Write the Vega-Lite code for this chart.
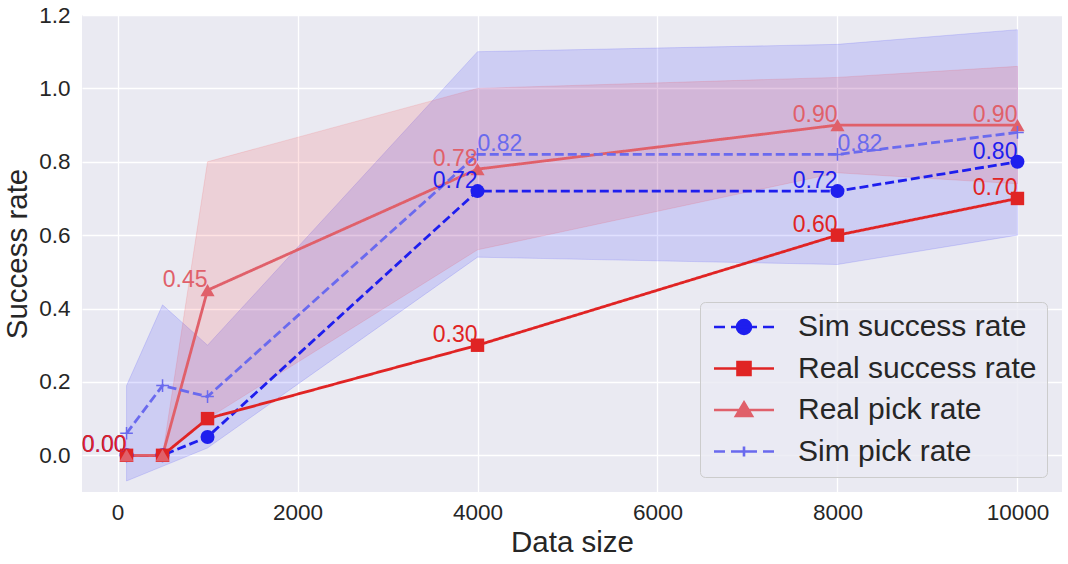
{
  "$schema": "https://vega.github.io/schema/vega-lite/v6.json",
  "width": 980,
  "height": 477,
  "autosize": {"type": "none"},
  "padding": {"left": 82, "top": 15, "right": 6, "bottom": 72},
  "background": "#ffffff",
  "datasets": {
    "rates": [
      {"series": "Sim success rate", "size": 100, "rate": 0.0, "labeled": true},
      {"series": "Sim success rate", "size": 500, "rate": 0.0, "labeled": false},
      {"series": "Sim success rate", "size": 1000, "rate": 0.05, "labeled": false},
      {"series": "Sim success rate", "size": 4000, "rate": 0.72, "labeled": true},
      {"series": "Sim success rate", "size": 8000, "rate": 0.72, "labeled": true},
      {"series": "Sim success rate", "size": 10000, "rate": 0.8, "labeled": true},
      {"series": "Real success rate", "size": 100, "rate": 0.0, "labeled": true},
      {"series": "Real success rate", "size": 500, "rate": 0.0, "labeled": false},
      {"series": "Real success rate", "size": 1000, "rate": 0.1, "labeled": false},
      {"series": "Real success rate", "size": 4000, "rate": 0.3, "labeled": true},
      {"series": "Real success rate", "size": 8000, "rate": 0.6, "labeled": true},
      {"series": "Real success rate", "size": 10000, "rate": 0.7, "labeled": true},
      {"series": "Real pick rate", "size": 100, "rate": 0.0, "lo": 0.0, "hi": 0.0, "labeled": false},
      {"series": "Real pick rate", "size": 500, "rate": 0.0, "lo": 0.0, "hi": 0.0, "labeled": false},
      {"series": "Real pick rate", "size": 1000, "rate": 0.45, "lo": 0.1, "hi": 0.8, "labeled": true},
      {"series": "Real pick rate", "size": 4000, "rate": 0.78, "lo": 0.56, "hi": 1.0, "labeled": true},
      {"series": "Real pick rate", "size": 8000, "rate": 0.9, "lo": 0.77, "hi": 1.03, "labeled": true},
      {"series": "Real pick rate", "size": 10000, "rate": 0.9, "lo": 0.74, "hi": 1.06, "labeled": true},
      {"series": "Sim pick rate", "size": 100, "rate": 0.06, "lo": -0.07, "hi": 0.19, "labeled": false},
      {"series": "Sim pick rate", "size": 500, "rate": 0.19, "lo": -0.03, "hi": 0.41, "labeled": false},
      {"series": "Sim pick rate", "size": 1000, "rate": 0.16, "lo": 0.02, "hi": 0.3, "labeled": false},
      {"series": "Sim pick rate", "size": 4000, "rate": 0.82, "lo": 0.54, "hi": 1.1, "labeled": true},
      {"series": "Sim pick rate", "size": 8000, "rate": 0.82, "lo": 0.52, "hi": 1.12, "labeled": true},
      {"series": "Sim pick rate", "size": 10000, "rate": 0.88, "lo": 0.6, "hi": 1.16, "labeled": false}
    ]
  },
  "data": {"name": "rates"},
  "encoding": {
    "x": {
      "field": "size", "type": "quantitative", "title": "Data size",
      "scale": {"domain": [-395, 10495], "nice": false, "zero": false},
      "axis": {"values": [0, 2000, 4000, 6000, 8000, 10000], "format": "d", "labelPadding": 9, "titlePadding": 5}
    },
    "y": {
      "field": "rate", "type": "quantitative", "title": "Success rate",
      "scale": {"domain": [-0.1, 1.2], "nice": false, "zero": false},
      "axis": {"values": [0, 0.2, 0.4, 0.6, 0.8, 1.0, 1.2], "format": ".1f", "labelPadding": 12, "titlePadding": 6}
    }
  },
  "layer": [
    {
      "transform": [{"filter": "datum.series === 'Sim pick rate'"}],
      "mark": {"type": "area", "color": "#0000ff", "fillOpacity": 0.12, "stroke": "#0000ff", "strokeOpacity": 0.12, "strokeWidth": 1},
      "encoding": {"y": {"field": "lo", "type": "quantitative"}, "y2": {"field": "hi"}}
    },
    {
      "transform": [{"filter": "datum.series === 'Real pick rate'"}],
      "mark": {"type": "area", "color": "#ff0000", "fillOpacity": 0.11, "stroke": "#ff0000", "strokeOpacity": 0.1, "strokeWidth": 1},
      "encoding": {"y": {"field": "lo", "type": "quantitative"}, "y2": {"field": "hi"}}
    },
    {
      "mark": {"type": "line", "strokeWidth": 2.8},
      "encoding": {
        "color": {
          "field": "series", "type": "nominal", "legend": null,
          "scale": {
            "domain": ["Real success rate", "Sim success rate", "Real pick rate", "Sim pick rate"],
            "range": ["#e02424", "#1e1eee", "#e0606a", "#6a6aee"]
          }
        },
        "strokeDash": {
          "field": "series", "type": "nominal", "legend": null,
          "scale": {
            "domain": ["Real success rate", "Sim success rate", "Real pick rate", "Sim pick rate"],
            "range": [[1, 0], [9, 4], [1, 0], [9, 4]]
          }
        }
      }
    },
    {
      "transform": [{"filter": "datum.series === 'Sim success rate'"}],
      "mark": {"type": "point", "shape": "circle", "filled": true, "size": 196, "color": "#1e1eee", "opacity": 1}
    },
    {
      "transform": [{"filter": "datum.series === 'Real success rate'"}],
      "mark": {"type": "point", "shape": "square", "filled": true, "size": 180, "color": "#e02424", "opacity": 1}
    },
    {
      "transform": [{"filter": "datum.series === 'Real pick rate'"}],
      "mark": {"type": "point", "shape": "triangle-up", "filled": true, "size": 200, "color": "#e0606a", "opacity": 1}
    },
    {
      "transform": [{"filter": "datum.series === 'Sim pick rate'"}],
      "mark": {"type": "point", "shape": "M-1,0H1M0,-1V1", "filled": false, "size": 160, "color": "#6a6aee", "strokeWidth": 1.5, "opacity": 1}
    },
    {
      "transform": [{"filter": "datum.labeled && datum.series !== 'Sim pick rate'"}],
      "mark": {"type": "text", "align": "right", "baseline": "alphabetic", "dy": -3, "font": "Liberation Sans", "fontSize": 23},
      "encoding": {
        "text": {"field": "rate", "type": "quantitative", "format": ".2f"},
        "color": {"field": "series", "type": "nominal", "legend": null}
      }
    },
    {
      "transform": [{"filter": "datum.labeled && datum.series === 'Sim pick rate'"}],
      "mark": {"type": "text", "align": "left", "baseline": "alphabetic", "dy": -3, "font": "Liberation Sans", "fontSize": 23},
      "encoding": {
        "text": {"field": "rate", "type": "quantitative", "format": ".2f"},
        "color": {"field": "series", "type": "nominal", "legend": null}
      }
    },
    {
      "mark": {"type": "point", "filled": true, "opacity": 0, "strokeWidth": 2.6},
      "encoding": {
        "fill": {
          "field": "series", "type": "nominal",
          "scale": {
            "domain": ["Sim success rate", "Real success rate", "Real pick rate", "Sim pick rate"],
            "range": ["#1e1eee", "#e02424", "#e0606a", "#6a6aee"]
          },
          "legend": {"title": null, "symbolOpacity": 1}
        },
        "stroke": {
          "field": "series", "type": "nominal",
          "scale": {
            "domain": ["Sim success rate", "Real success rate", "Real pick rate", "Sim pick rate"],
            "range": ["#1e1eee", "#e02424", "#e0606a", "#6a6aee"]
          },
          "legend": {"title": null, "symbolOpacity": 1}
        },
        "shape": {
          "field": "series", "type": "nominal",
          "scale": {
            "domain": ["Sim success rate", "Real success rate", "Real pick rate", "Sim pick rate"],
            "range": [
              "M-1.1,0H0M0.6,0H3.2M3.8,0H4.9M2.6,0A0.7,0.7 0 1,1 1.2,0A0.7,0.7 0 1,1 2.6,0Z",
              "M-1.1,0H4.9M1.25,-0.65H2.55V0.65H1.25Z",
              "M-1.1,0H4.9M1.9,-0.75L2.7,0.6H1.1Z",
              "M-1.1,0H0M0.6,0H3.2M3.8,0H4.9M1.9,-0.5V0.5"
            ]
          },
          "legend": {"title": null, "symbolOpacity": 1}
        }
      }
    }
  ],
  "config": {
    "font": "Liberation Sans",
    "view": {"fill": "#eaeaf2", "stroke": null},
    "axis": {
      "domain": false,
      "ticks": false,
      "grid": true,
      "gridColor": "#ffffff",
      "gridWidth": 1.3,
      "labelFont": "Liberation Sans",
      "labelFontSize": 22.5,
      "labelColor": "#262626",
      "titleFont": "Liberation Sans",
      "titleFontSize": 29.5,
      "titleFontWeight": "normal",
      "titleColor": "#262626"
    },
    "legend": {
      "orient": "bottom-right",
      "offset": 15,
      "fillColor": "rgba(234,234,242,0.8)",
      "strokeColor": "#cccccc",
      "cornerRadius": 5,
      "padding": 10,
      "labelFont": "Liberation Sans",
      "labelFontSize": 30,
      "labelColor": "#262626",
      "labelLimit": 400,
      "symbolSize": 400,
      "symbolStrokeWidth": 2.6,
      "labelOffset": 58,
      "rowPadding": 11.5
    }
  }
}
